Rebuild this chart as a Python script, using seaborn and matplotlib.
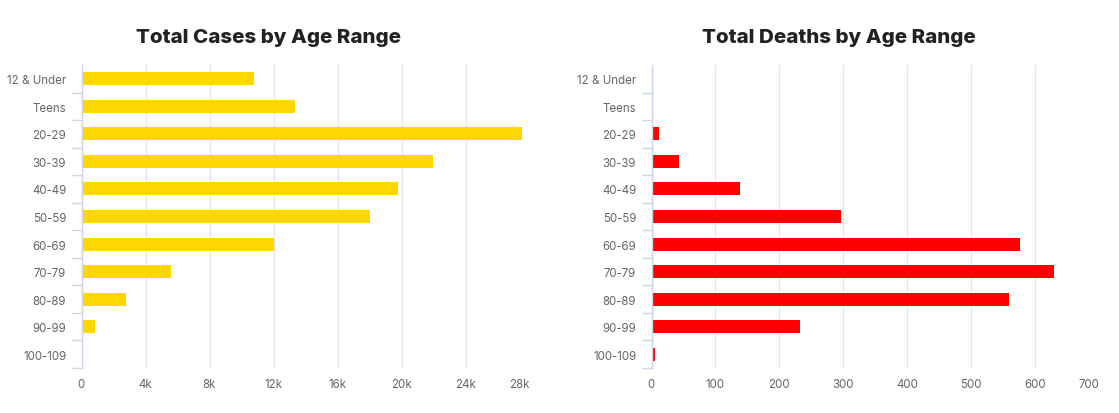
import matplotlib
matplotlib.use("Agg")
import matplotlib.pyplot as plt
import seaborn as sns
import pandas as pd
import numpy as np
from matplotlib.ticker import FixedLocator, FuncFormatter

age_ranges = ["12 & Under", "Teens", "20-29", "30-39", "40-49", "50-59",
              "60-69", "70-79", "80-89", "90-99", "100-109"]
cases = [10780, 13350, 27500, 21950, 19750, 18000, 12040, 5600, 2780, 830, 20]
deaths = [0, 1, 12, 43, 138, 296, 576, 630, 559, 232, 5]
case_ticks = [0, 4000, 8000, 12000, 16000, 20000, 24000, 28000]
death_ticks = [0, 100, 200, 300, 400, 500, 600, 700]

sns.set_theme(style="white")
plt.rcParams['font.family'] = ['Inter', 'DejaVu Sans']

W, H = 1119, 414
fig = plt.figure(figsize=(W / 100, H / 100), dpi=100)

def make_ax(left, right, top, bottom):
    return fig.add_axes([left / W, 1 - bottom / H, (right - left) / W, (bottom - top) / H])

ax1 = make_ax(81.5, 529.5, 66, 369)
ax2 = make_ax(651.5, 1099, 66, 369)

df = pd.DataFrame({"age": age_ranges, "cases": cases, "deaths": deaths})

specs = [
    (ax1, "cases", "#FFD700", case_ticks, 28000, "Total Cases by Age Range", 269,
     lambda v, p: "0" if v == 0 else f"{int(v/1000)}k"),
    (ax2, "deaths", "#FF0000", death_ticks, 700, "Total Deaths by Age Range", 838.5,
     lambda v, p: f"{int(v)}"),
]

for ax, col, color, ticks, xmax, title, tx, fmt in specs:
    sns.barplot(data=df, x=col, y="age", orient="h", color=color,
                width=0.47, ax=ax, saturation=1, order=age_ranges)
    for p in ax.patches:
        p.set_edgecolor("none")
        p.set_linewidth(0)
    ax.set_xlim(0, xmax)
    ax.set_ylim(len(age_ranges) - 0.5, -0.5)
    ax.set_xlabel("")
    ax.set_ylabel("")
    ax.xaxis.set_major_locator(FixedLocator(ticks))
    ax.xaxis.set_major_formatter(FuncFormatter(fmt))
    ax.grid(axis="x", color="#e6e6e6", linewidth=1)
    ax.grid(axis="y", visible=False)
    ax.set_axisbelow(True)
    for s in ["top", "right", "bottom"]:
        ax.spines[s].set_visible(False)
    ax.spines["left"].set_color("#ccd6eb")
    ax.spines["left"].set_linewidth(1)
    ax.tick_params(axis="x", length=0, pad=7, labelsize=8.3, labelcolor="#666666")
    ax.tick_params(axis="y", which="major", length=0, pad=11, labelsize=8.3, labelcolor="#666666")
    ax.yaxis.set_minor_locator(FixedLocator(np.arange(-0.5, len(age_ranges), 1.0)[1:]))
    ax.tick_params(axis="y", which="minor", length=7.2, width=1, color="#ccd6eb", left=True)
    fig.canvas.draw()
    ax.get_xticklabels()[-1].set_horizontalalignment("right")
    fig.text(tx / W, 1 - 43.3 / H, title, ha="center", va="baseline",
             fontsize=14.8, fontweight="heavy", color="#222222")

fig.savefig("out.png", dpi=100, facecolor="white")
